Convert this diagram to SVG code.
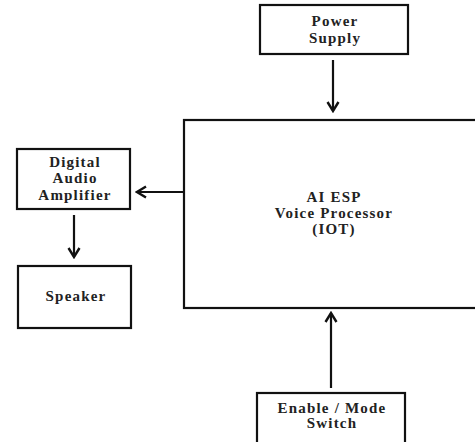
<svg xmlns="http://www.w3.org/2000/svg" width="475" height="442" viewBox="0 0 475 442">
  <style>
    .box { fill: #fff; stroke: #111; stroke-width: 2.2; }
    .lbl { font-family: "Liberation Serif", "Times New Roman", serif; font-weight: bold; font-size: 15px; letter-spacing: 1.2px; fill: #222; text-anchor: middle; }
    .wire { stroke: #111; stroke-width: 2.2; fill: none; marker-end: url(#head); }
  </style>
  <defs>
    <marker id="head" viewBox="0 0 14 14" refX="12" refY="7" markerWidth="14" markerHeight="14" markerUnits="userSpaceOnUse" orient="auto">
      <polyline points="3,1.5 12,7 3,12.5" fill="none" stroke="#111" stroke-width="2.4"/>
    </marker>
  </defs>

  <rect width="475" height="442" fill="#fff"/>

  <g id="power-supply">
    <rect class="box" x="260" y="5" width="148" height="49"/>
    <text class="lbl" x="335" y="26">Power</text>
    <text class="lbl" x="335" y="43">Supply</text>
  </g>

  <g id="voice-processor">
    <rect class="box" x="184" y="120" width="300" height="188"/>
    <text class="lbl" x="334" y="202">AI ESP</text>
    <text class="lbl" x="334" y="218">Voice Processor</text>
    <text class="lbl" x="334" y="234">(IOT)</text>
  </g>

  <g id="audio-amplifier">
    <rect class="box" x="17" y="149" width="113" height="60"/>
    <text class="lbl" x="75" y="167">Digital</text>
    <text class="lbl" x="75" y="183">Audio</text>
    <text class="lbl" x="75" y="200">Amplifier</text>
  </g>

  <g id="speaker">
    <rect class="box" x="18" y="266" width="113" height="62"/>
    <text class="lbl" x="76" y="301">Speaker</text>
  </g>

  <g id="mode-switch">
    <rect class="box" x="257" y="393" width="148" height="56"/>
    <text class="lbl" x="332" y="413">Enable / Mode</text>
    <text class="lbl" x="332" y="428">Switch</text>
  </g>

  <g id="connectors">
    <line class="wire" x1="333" y1="60" x2="333" y2="111"/>
    <line class="wire" x1="184" y1="192" x2="137" y2="192"/>
    <line class="wire" x1="74" y1="215" x2="74" y2="257"/>
    <line class="wire" x1="331" y1="388" x2="331" y2="313"/>
  </g>
</svg>
